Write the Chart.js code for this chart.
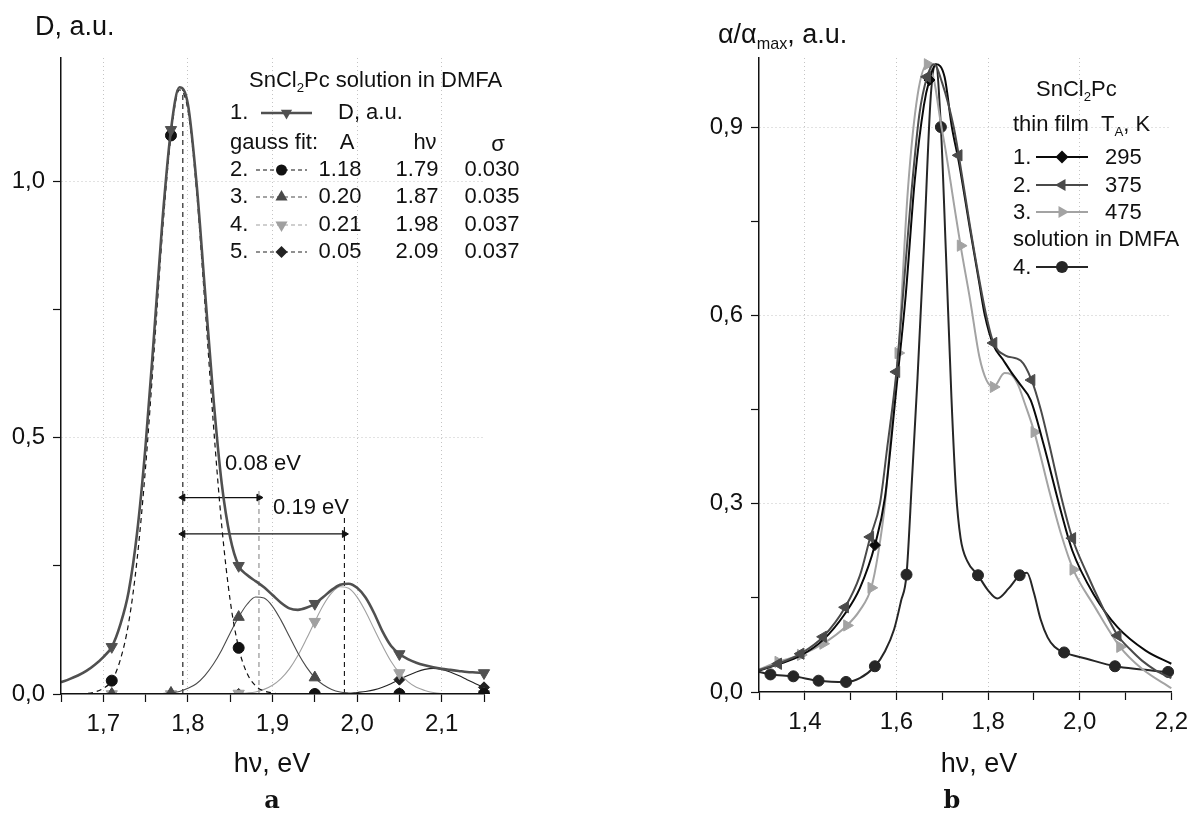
<!DOCTYPE html>
<html>
<head>
<meta charset="utf-8">
<script src="https://cdn.jsdelivr.net/npm/chart.js"></script>
<style>
  body { margin: 0; background: #fff; }
  #page { position: relative; width: 1196px; height: 813px; overflow: hidden;
          font-family: "Liberation Sans", Arial, sans-serif; color: #111; }
  canvas { position: absolute; top: 0; }
  #chartA { left: 0; }
  #chartB { left: 598px; }
  .t { position: absolute; white-space: nowrap; line-height: 1; font-size: 22px;
       transform: translateY(-50%); }
  .c { transform: translate(-50%, -50%); }
  .title { font-size: 27px; }
  .panel { font-family: "DejaVu Serif", serif; font-weight: bold; font-size: 24px; }
  sub { font-size: 0.6em; vertical-align: -0.4em; line-height: 0; }
</style>
</head>
<body>
<div id="page">
  <canvas id="chartA" width="598" height="813"></canvas>
  <canvas id="chartB" width="598" height="813"></canvas>

  <!-- panel a texts -->
  <div class="t title" style="left:35px;top:26px">D, a.u.</div>
  <div class="t c title" style="left:272px;top:763px">hν, eV</div>
  <div class="t c panel" style="left:272px;top:800px">a</div>
  <div class="t" style="left:249px;top:80px">SnCl<sub>2</sub>Pc solution in DMFA</div>
  <div class="t" style="left:230px;top:112px">1.</div>
  <div class="t" style="left:338px;top:112px">D, a.u.</div>
  <div class="t" style="left:230px;top:142px">gauss fit:</div>
  <div class="t c" style="left:347px;top:142px">A</div>
  <div class="t c" style="left:425px;top:142px">hν</div>
  <div class="t c" style="left:498px;top:144px">σ</div>
  <div class="t" style="left:230px;top:169px">2.</div>
  <div class="t c" style="left:340px;top:169px">1.18</div>
  <div class="t c" style="left:417px;top:169px">1.79</div>
  <div class="t c" style="left:492px;top:169px">0.030</div>
  <div class="t" style="left:230px;top:196px">3.</div>
  <div class="t c" style="left:340px;top:196px">0.20</div>
  <div class="t c" style="left:417px;top:196px">1.87</div>
  <div class="t c" style="left:492px;top:196px">0.035</div>
  <div class="t" style="left:230px;top:224px">4.</div>
  <div class="t c" style="left:340px;top:224px">0.21</div>
  <div class="t c" style="left:417px;top:224px">1.98</div>
  <div class="t c" style="left:492px;top:224px">0.037</div>
  <div class="t" style="left:230px;top:251px">5.</div>
  <div class="t c" style="left:340px;top:251px">0.05</div>
  <div class="t c" style="left:417px;top:251px">2.09</div>
  <div class="t c" style="left:492px;top:251px">0.037</div>
  <div class="t c" style="left:263px;top:463px">0.08 eV</div>
  <div class="t c" style="left:311px;top:507px">0.19 eV</div>

  <!-- panel b texts -->
  <div class="t title" style="left:718px;top:34px">α/α<sub>max</sub>, a.u.</div>
  <div class="t c title" style="left:979px;top:763px">hν, eV</div>
  <div class="t c panel" style="left:952px;top:800px">b</div>
  <div class="t" style="left:1036px;top:89px">SnCl<sub>2</sub>Pc</div>
  <div class="t" style="left:1013px;top:124px">thin film&nbsp;&nbsp;T<sub>A</sub>, K</div>
  <div class="t" style="left:1013px;top:157px">1.</div>
  <div class="t" style="left:1105px;top:157px">295</div>
  <div class="t" style="left:1013px;top:185px">2.</div>
  <div class="t" style="left:1105px;top:185px">375</div>
  <div class="t" style="left:1013px;top:212px">3.</div>
  <div class="t" style="left:1105px;top:212px">475</div>
  <div class="t" style="left:1013px;top:239px">solution in DMFA</div>
  <div class="t" style="left:1013px;top:267px">4.</div>
</div>

<script>
const FONT = '"Liberation Sans", Arial, sans-serif';

// ---- panel a: SnCl2Pc solution in DMFA, optical density and gauss fit ----
const hvA = [1.65, 1.66, 1.67, 1.68, 1.69,
  1.70, 1.71, 1.72, 1.73, 1.74, 1.75, 1.76, 1.77, 1.78, 1.79,
  1.80, 1.81, 1.82, 1.83, 1.84, 1.85, 1.86, 1.87, 1.88, 1.89,
  1.90, 1.91, 1.92, 1.93, 1.94, 1.95, 1.96, 1.97, 1.98, 1.99,
  2.00, 2.01, 2.02, 2.03, 2.04, 2.05, 2.06, 2.07, 2.08, 2.09,
  2.10, 2.11, 2.12, 2.13, 2.14, 2.15];
const densityA = [0.023, 0.029, 0.036, 0.045, 0.057,
  0.072, 0.092, 0.135, 0.200, 0.315, 0.485, 0.700, 0.925, 1.100, 1.183,
  1.150, 1.000, 0.790, 0.580, 0.410, 0.305, 0.250, 0.232, 0.220, 0.208,
  0.193, 0.178, 0.167, 0.164, 0.168, 0.176, 0.189, 0.203, 0.213, 0.215,
  0.207, 0.188, 0.158, 0.122, 0.094, 0.078, 0.068, 0.061, 0.056, 0.052,
  0.049, 0.047, 0.045, 0.043, 0.042, 0.041];
const fit2 = [0, 0, 0, 0.001, 0.004,
  0.011, 0.026, 0.066, 0.139, 0.263, 0.443, 0.668, 0.902, 1.089, 1.178,
  1.139, 0.986, 0.763, 0.529, 0.328, 0.182, 0.090, 0.040, 0.016, 0.006,
  0.002, 0, 0, 0, 0, 0, 0, 0, 0, 0,
  0, 0, 0, 0, 0, 0, 0, 0, 0, 0,
  0, 0, 0, 0, 0, 0];
const fit3 = [0, 0, 0, 0, 0,
  0, 0, 0, 0, 0, 0, 0, 0.001, 0.002, 0.005,
  0.011, 0.020, 0.036, 0.058, 0.086, 0.119, 0.150, 0.175, 0.189, 0.187,
  0.171, 0.144, 0.112, 0.080, 0.053, 0.032, 0.018, 0.009, 0.004, 0.002,
  0.001, 0, 0, 0, 0, 0, 0, 0, 0, 0,
  0, 0, 0, 0, 0, 0];
const fit4 = [0, 0, 0, 0, 0,
  0, 0, 0, 0, 0, 0, 0, 0, 0, 0,
  0, 0, 0, 0, 0, 0, 0.001, 0.002, 0.004, 0.009,
  0.017, 0.030, 0.049, 0.075, 0.107, 0.141, 0.173, 0.197, 0.209, 0.206,
  0.189, 0.161, 0.127, 0.094, 0.064, 0.041, 0.024, 0.013, 0.007, 0.003,
  0.001, 0, 0, 0, 0, 0];
const fit5 = [0, 0, 0, 0, 0,
  0, 0, 0, 0, 0, 0, 0, 0, 0, 0,
  0, 0, 0, 0, 0, 0, 0, 0, 0, 0,
  0, 0, 0, 0, 0, 0, 0, 0, 0.001, 0.001,
  0.003, 0.005, 0.008, 0.013, 0.020, 0.028, 0.036, 0.043, 0.048, 0.050,
  0.048, 0.043, 0.036, 0.028, 0.020, 0.013];
const markA = [1.71, 1.78, 1.86, 1.95, 2.05, 2.15];

// peak positions (vertical dashed lines) and the two distance arrows
const dropX = [1.794, 1.884, 1.985];
const dropTop = [1.18, 0.40, 0.35];
const arrowFrom = [1.794, 1.794];
const arrowTo = [1.884, 1.985];
const arrowY = [0.383, 0.312];

// ---- panel b: normalized absorption, films annealed at TA and solution ----
const hv295 = [1.30, 1.342, 1.391, 1.44, 1.488, 1.52, 1.553, 1.575, 1.60, 1.62,
  1.64, 1.66, 1.672, 1.686, 1.705, 1.721, 1.736, 1.76, 1.78, 1.793,
  1.812, 1.832, 1.85, 1.87, 1.893, 1.921, 1.96, 1.984, 2.031, 2.083, 2.144, 2.20];
const abs295 = [0.034, 0.044, 0.058, 0.083, 0.125, 0.165, 0.234, 0.31, 0.485, 0.63,
  0.815, 0.935, 0.975, 1.0, 0.98, 0.90, 0.845, 0.74, 0.655, 0.60,
  0.552, 0.53, 0.51, 0.49, 0.465, 0.395, 0.285, 0.225, 0.155, 0.103, 0.066, 0.045];
const mark295 = [1.553, 1.672];

const hv375 = [1.30, 1.342, 1.391, 1.44, 1.488, 1.52, 1.543, 1.564, 1.58, 1.60,
  1.613, 1.632, 1.65, 1.667, 1.682, 1.70, 1.725, 1.736, 1.76, 1.78,
  1.796, 1.812, 1.838, 1.871, 1.895, 1.915, 1.934, 1.96, 1.984, 2.015,
  2.05, 2.083, 2.11, 2.136, 2.165, 2.20];
const abs375 = [0.035, 0.045, 0.061, 0.088, 0.135, 0.185, 0.247, 0.30, 0.39, 0.51,
  0.62, 0.79, 0.92, 0.98, 1.0, 0.97, 0.90, 0.855, 0.745, 0.66,
  0.60, 0.556, 0.536, 0.528, 0.497, 0.45, 0.393, 0.31, 0.245, 0.19,
  0.135, 0.09, 0.068, 0.05, 0.035, 0.022];
const mark375 = [1.342, 1.391, 1.44, 1.488, 1.543, 1.60, 1.667, 1.736, 1.812, 1.895, 1.984, 2.083];

const hv475 = [1.30, 1.342, 1.391, 1.44, 1.492, 1.52, 1.545, 1.56, 1.575, 1.59,
  1.604, 1.625, 1.646, 1.668, 1.682, 1.696, 1.708, 1.725, 1.74, 1.761,
  1.781, 1.797, 1.812, 1.836, 1.85, 1.865, 1.88, 1.901, 1.934, 1.96,
  1.986, 2.031, 2.088, 2.136, 2.20];
const abs475 = [0.036, 0.048, 0.059, 0.077, 0.106, 0.13, 0.166, 0.22, 0.30, 0.43,
  0.54, 0.80, 0.95, 1.0, 0.975, 0.91, 0.86, 0.78, 0.711, 0.624,
  0.534, 0.496, 0.486, 0.508, 0.506, 0.49, 0.46, 0.414, 0.319, 0.25,
  0.195, 0.138, 0.072, 0.037, 0.006];
const mark475 = [1.342, 1.391, 1.44, 1.492, 1.545, 1.604, 1.668, 1.74, 1.812, 1.901, 1.986, 2.088];

const hvDmfa = [1.30, 1.325, 1.375, 1.43, 1.49, 1.52, 1.553, 1.575, 1.595, 1.61,
  1.622, 1.634, 1.646, 1.66, 1.675, 1.686, 1.697, 1.708, 1.72, 1.73,
  1.74, 1.755, 1.778, 1.80, 1.82, 1.845, 1.869, 1.885, 1.90, 1.915,
  1.93, 1.945, 1.966, 2.015, 2.077, 2.136, 2.193, 2.20];
const absDmfa = [0.032, 0.028, 0.025, 0.018, 0.016, 0.022, 0.041, 0.065, 0.10, 0.145,
  0.187, 0.34, 0.50, 0.71, 0.95, 1.0, 0.90, 0.70, 0.47, 0.32,
  0.245, 0.208, 0.186, 0.162, 0.149, 0.165, 0.186, 0.19, 0.158, 0.115,
  0.087, 0.072, 0.063, 0.053, 0.041, 0.036, 0.032, 0.032];
const markDmfa = [1.325, 1.375, 1.43, 1.49, 1.553, 1.622, 1.697, 1.778, 1.869, 1.966, 2.077, 2.193];

// ---------------------------------------------------------------------------

function fmt(v) {
  return v.toFixed(1).replace(".", ",");
}

function isMult(v, step) {
  return Math.abs(v / step - Math.round(v / step)) < 1e-6;
}

function markers(list, r) {
  return (ctx) => (ctx.raw && list.some((m) => Math.abs(ctx.raw.x - m) < 1e-6) ? r : 0);
}

function curve(xs, ys, color, width, extra) {
  return Object.assign({
    data: xs.map((x, i) => ({ x: x, y: ys[i] })),
    borderColor: color,
    backgroundColor: color,
    pointBackgroundColor: color,
    pointBorderColor: color,
    pointBorderWidth: 1,
    borderWidth: width,
    pointRadius: 0,
    fill: false,
    cubicInterpolationMode: "monotone",
    clip: { left: 10, top: 10, right: 10, bottom: 0 },
  }, extra || {});
}

function axis(min, max, step, major, size) {
  return {
    type: "linear",
    min: min,
    max: max,
    afterFit: (s) => {
      if (s.isHorizontal()) s.height = size;
      else s.width = size;
    },
    ticks: {
      stepSize: step,
      includeBounds: false,
      autoSkip: false,
      maxRotation: 0,
      padding: 8,
      color: "#111",
      font: { family: FONT, size: 24 },
      callback: (v) => (major(v) ? fmt(v) : ""),
    },
    grid: {
      color: (c) =>
        c.tick && major(c.tick.value) && c.tick.value > min + 1e-9 && c.tick.value < max - 1e-9
          ? "#c4c4c4"
          : "rgba(0,0,0,0)",
      lineWidth: 1,
      drawTicks: true,
      tickLength: 8,
      tickColor: "#111",
      tickWidth: 1.2,
    },
    border: { display: true, color: "#111", width: 1.5, dash: [1, 3], z: 1 },
  };
}

// legend line samples with their markers, drawn in canvas pixels
function drawMarker(ctx, shape, x, y, r, rot) {
  ctx.beginPath();
  if (shape === "circle") {
    ctx.arc(x, y, r, 0, Math.PI * 2);
  } else if (shape === "triangle") {
    let a = (rot * Math.PI) / 180;
    for (let k = 0; k < 3; k++) {
      const px = x + Math.sin(a) * r;
      const py = y - Math.cos(a) * r;
      if (k === 0) ctx.moveTo(px, py);
      else ctx.lineTo(px, py);
      a += (Math.PI * 2) / 3;
    }
    ctx.closePath();
  } else {
    ctx.moveTo(x, y - r);
    ctx.lineTo(x + r, y);
    ctx.lineTo(x, y + r);
    ctx.lineTo(x - r, y);
    ctx.closePath();
  }
  ctx.fill();
}

function samplePlugin(items) {
  return {
    id: "legendSamples",
    afterDraw(chart) {
      const ctx = chart.ctx;
      items.forEach((it) => {
        ctx.save();
        ctx.strokeStyle = it.color;
        ctx.fillStyle = it.color;
        ctx.lineWidth = it.width;
        ctx.setLineDash(it.dash);
        ctx.beginPath();
        ctx.moveTo(it.x1, it.y);
        ctx.lineTo(it.x2, it.y);
        ctx.stroke();
        ctx.setLineDash([]);
        drawMarker(ctx, it.shape, (it.x1 + it.x2) / 2, it.y, it.r, it.rot);
        ctx.restore();
      });
    },
  };
}

const common = {
  responsive: false,
  animation: false,
  events: [],
  plugins: { legend: { display: false }, tooltip: { enabled: false } },
};

// ---- chart a ----
const setsA = [
  curve(hvA, densityA, "#505050", 2.6, {
    pointStyle: "triangle", pointRotation: 180, pointRadius: markers(markA, 6.5),
  }),
  curve(hvA, fit2, "#111", 1.2, {
    borderDash: [5, 4], pointStyle: "circle", pointRadius: markers(markA, 5.5),
  }),
  curve(hvA, fit3, "#4a4a4a", 1.1, {
    pointStyle: "triangle", pointRadius: markers(markA, 6.5),
  }),
  curve(hvA, fit4, "#a0a0a0", 1.1, {
    pointStyle: "triangle", pointRotation: 180, pointRadius: markers(markA, 6.5),
  }),
  curve(hvA, fit5, "#222", 1.1, {
    pointStyle: "rectRot", pointRadius: markers(markA, 5.5),
  }),
];
dropX.forEach((x, i) => {
  setsA.push(curve([x, x], [0, dropTop[i]], i === 1 ? "#8a8a8a" : "#111", 1.1, {
    borderDash: [5, 4], cubicInterpolationMode: "default",
  }));
});
arrowY.forEach((y, i) => {
  setsA.push(curve([arrowFrom[i], arrowTo[i]], [y, y], "#111", 1.2, {
    cubicInterpolationMode: "default",
    pointStyle: "triangle", pointRotation: [270, 90], pointRadius: 4,
  }));
});

new Chart(document.getElementById("chartA"), {
  type: "line",
  data: { datasets: setsA },
  options: Object.assign({}, common, {
    layout: { padding: { left: 0, right: 114, top: 58, bottom: 69 } },
    scales: {
      x: axis(1.65, 2.15, 0.05, (v) => isMult(v, 0.1), 50),
      y: axis(0, 1.24, 0.25, (v) => isMult(v, 0.5), 61),
    },
  }),
  plugins: [samplePlugin([
    { x1: 261, x2: 312, y: 113, color: "#505050", width: 2.5, dash: [], shape: "triangle", rot: 180, r: 6.5 },
    { x1: 256, x2: 307, y: 170, color: "#111", width: 1.2, dash: [4, 3], shape: "circle", rot: 0, r: 5.5 },
    { x1: 256, x2: 307, y: 197, color: "#4a4a4a", width: 1.2, dash: [4, 3], shape: "triangle", rot: 0, r: 7 },
    { x1: 256, x2: 307, y: 225, color: "#a0a0a0", width: 1.2, dash: [4, 3], shape: "triangle", rot: 180, r: 7 },
    { x1: 256, x2: 307, y: 252, color: "#222", width: 1.2, dash: [4, 3], shape: "diamond", rot: 0, r: 6 },
  ])],
});

// ---- chart b ----
const setsB = [
  curve(hv375, abs375, "#4a4a4a", 2, {
    pointStyle: "triangle", pointRotation: 270, pointRadius: markers(mark375, 6.5),
  }),
  curve(hv295, abs295, "#0a0a0a", 2, {
    pointStyle: "rectRot", pointRadius: markers(mark295, 5.5),
  }),
  curve(hv475, abs475, "#a3a3a3", 2, {
    pointStyle: "triangle", pointRotation: 90, pointRadius: markers(mark475, 6.5),
  }),
  curve(hvDmfa, absDmfa, "#262626", 2, {
    pointStyle: "circle", pointRadius: markers(markDmfa, 5.5),
  }),
];

new Chart(document.getElementById("chartB"), {
  type: "line",
  data: { datasets: setsB },
  options: Object.assign({}, common, {
    layout: { padding: { left: 0, right: 18, top: 58, bottom: 71 } },
    scales: {
      x: axis(1.3, 2.2, 0.1, (v) => isMult(v, 0.2), 50),
      y: axis(0, 1.01, 0.15, (v) => isMult(v, 0.3), 161),
    },
  }),
  plugins: [samplePlugin([
    { x1: 438, x2: 490, y: 157, color: "#0a0a0a", width: 2, dash: [], shape: "diamond", rot: 0, r: 6.5 },
    { x1: 438, x2: 490, y: 185, color: "#4a4a4a", width: 2, dash: [], shape: "triangle", rot: 270, r: 7 },
    { x1: 438, x2: 490, y: 212, color: "#a3a3a3", width: 2, dash: [], shape: "triangle", rot: 90, r: 7 },
    { x1: 438, x2: 490, y: 267, color: "#262626", width: 2, dash: [], shape: "circle", rot: 0, r: 6 },
  ])],
});
</script>
</body>
</html>
